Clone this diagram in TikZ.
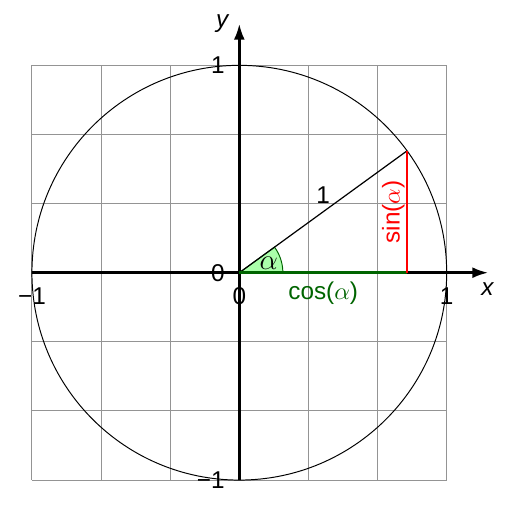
\documentclass[tikz,border=0pt]{standalone}
\usepackage{fontspec}
\setmainfont{Liberation Sans}
\usetikzlibrary{arrows.meta}
\definecolor{arcFill}{HTML}{AAFFAA}
\definecolor{cosGreen}{HTML}{006400}
\definecolor{sinRed}{HTML}{FF0000}

\begin{document}
\begin{tikzpicture}[x=3cm, y=3cm, font=\fontsize{10}{12}\selectfont,
    gridline/.style={black!42, line width=0.4pt},
    axis/.style={line width=1pt, -{Latex[length=6.5pt, width=4.5pt]}},
    legline/.style={line width=1.1pt}]
  \useasboundingbox (-1.154,-1.125) rectangle (1.315,1.315);
  % Puntos base
  \coordinate (O) at (0,0);
  \coordinate (P) at (36:1);
  \coordinate (C) at (P |- O);
  \coordinate (xbeg) at (-1,0);
  \coordinate (xend) at (1.2,0);
  \coordinate (ybeg) at (0,-1);
  \coordinate (yend) at (0,1.2);
  % Rejilla
  \foreach \i in {-3,...,3} {
    \draw[gridline] (\i/3,-1) -- (\i/3,1);
    \draw[gridline] (-1,\i/3) -- (1,\i/3);
  }
  % Angulo
  \filldraw[fill=arcFill, draw=cosGreen, line width=0.4pt]
    (O) -- (0.21,0) arc[start angle=0, end angle=36, radius=0.21] -- cycle;
  \node (alab) at (18:0.15) {\large$\alpha$};
  % Circulo unidad
  \draw[line width=0.4pt] (O) circle[radius=1];
  % Ejes
  \draw[axis] (xbeg) -- (xend);
  \draw[axis] (ybeg) -- (yend);
  \node (xlab) at (1.197,-0.079) {\itshape x};
  \node (ylab) at (-0.083,1.2) {\itshape y};
  % Radio, coseno y seno
  \draw[line width=0.5pt] (O) -- (P) node[midway, above] (rlab) {1};
  \draw[legline, cosGreen] (O) -- (C)
    node[midway, below] (coslab) {cos($\alpha$)};
  \draw[legline, sinRed] (C) -- (P)
    node[midway, sloped, above, inner sep=0.5pt] (sinlab) {sin($\alpha$)};
  % Marcas
  \node[left=2.5pt] (yone) at (0,1) {1};
  \node[left=2.5pt] (yzero) at (O) {0};
  \node[left=2.5pt] (ymone) at (ybeg) {−1};
  \node[below=2.5pt] (xmone) at (xbeg) {−1};
  \node[below=2.5pt] (xzero) at (O) {0};
  \node[below=2.5pt] (xone) at (1,0) {1};
\end{tikzpicture}
\end{document}
